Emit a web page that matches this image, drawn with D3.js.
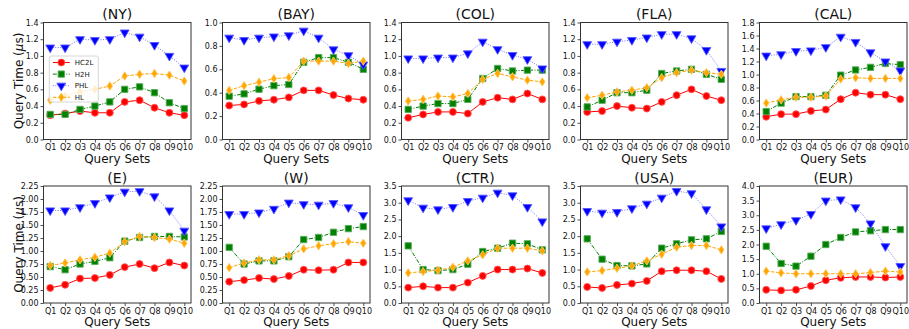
<!DOCTYPE html>
<html>
<head>
<meta charset="utf-8">
<script src="https://cdn.jsdelivr.net/npm/d3@7"></script>
<style>
  body { margin: 0; background: #fff; }
  text { font-family: "DejaVu Sans", sans-serif; fill: #111; }
</style>
</head>
<body>
<svg id="chart" width="909" height="329"></svg>
<script>
const regions = ["NY", "BAY", "COL", "FLA", "CAL", "E", "W", "CTR", "USA", "EUR"];
const querySets = ["Q1", "Q2", "Q3", "Q4", "Q5", "Q6", "Q7", "Q8", "Q9", "Q10"];
const yMax = [1.4, 1.0, 1.4, 1.4, 1.8, 2.25, 2.25, 3.5, 3.5, 4.0];
const yStep = [0.2, 0.2, 0.2, 0.2, 0.2, 0.25, 0.25, 0.5, 0.5, 0.5];

// one row per region, in the order of `regions`
const hc2l = [
  [0.29, 0.31, 0.34, 0.32, 0.32, 0.45, 0.47, 0.38, 0.32, 0.29],
  [0.29, 0.30, 0.33, 0.34, 0.36, 0.42, 0.42, 0.38, 0.35, 0.34],
  [0.26, 0.30, 0.33, 0.33, 0.31, 0.45, 0.50, 0.48, 0.55, 0.48],
  [0.33, 0.34, 0.40, 0.38, 0.37, 0.45, 0.53, 0.60, 0.52, 0.47],
  [0.35, 0.39, 0.39, 0.44, 0.46, 0.62, 0.72, 0.69, 0.69, 0.62],
  [0.29, 0.35, 0.47, 0.48, 0.54, 0.69, 0.75, 0.67, 0.78, 0.72],
  [0.41, 0.44, 0.48, 0.46, 0.52, 0.64, 0.63, 0.64, 0.78, 0.78],
  [0.46, 0.50, 0.46, 0.46, 0.61, 0.81, 1.00, 1.00, 1.03, 0.90],
  [0.48, 0.45, 0.54, 0.58, 0.66, 0.95, 0.98, 0.98, 0.95, 0.72],
  [0.45, 0.43, 0.45, 0.58, 0.78, 0.86, 0.89, 0.89, 0.87, 0.89]
];
const h2h = [
  [0.30, 0.30, 0.36, 0.40, 0.45, 0.60, 0.63, 0.56, 0.44, 0.37],
  [0.37, 0.39, 0.43, 0.46, 0.47, 0.66, 0.70, 0.70, 0.66, 0.60],
  [0.36, 0.40, 0.43, 0.43, 0.48, 0.73, 0.85, 0.82, 0.83, 0.83],
  [0.39, 0.47, 0.56, 0.56, 0.59, 0.79, 0.82, 0.84, 0.78, 0.72],
  [0.43, 0.56, 0.66, 0.66, 0.68, 0.99, 1.07, 1.11, 1.17, 1.15],
  [0.70, 0.64, 0.75, 0.80, 0.87, 1.19, 1.26, 1.28, 1.28, 1.27],
  [1.07, 0.75, 0.81, 0.81, 0.89, 1.22, 1.26, 1.36, 1.43, 1.47],
  [1.71, 1.00, 0.97, 1.00, 1.16, 1.54, 1.64, 1.79, 1.77, 1.59],
  [1.92, 1.31, 1.12, 1.11, 1.17, 1.64, 1.77, 1.89, 1.92, 2.14],
  [1.94, 1.35, 1.26, 1.60, 2.00, 2.24, 2.43, 2.47, 2.51, 2.51]
];
const phl = [
  [1.10, 1.10, 1.20, 1.19, 1.20, 1.28, 1.23, 1.13, 1.00, 0.86],
  [0.87, 0.85, 0.87, 0.88, 0.89, 0.93, 0.87, 0.77, 0.72, 0.64],
  [0.97, 0.97, 0.98, 0.98, 1.03, 1.17, 1.08, 1.01, 0.96, 0.85],
  [1.14, 1.14, 1.17, 1.19, 1.22, 1.26, 1.26, 1.21, 1.07, 0.82],
  [1.29, 1.31, 1.36, 1.37, 1.42, 1.58, 1.50, 1.34, 1.20, 1.06],
  [1.78, 1.78, 1.84, 1.92, 2.03, 2.14, 2.15, 2.05, 1.78, 1.39],
  [1.71, 1.71, 1.74, 1.81, 1.93, 1.90, 1.89, 1.92, 1.84, 1.69],
  [3.07, 2.85, 2.80, 2.87, 3.05, 3.15, 3.30, 3.22, 2.87, 2.44],
  [2.75, 2.70, 2.72, 2.83, 2.97, 3.15, 3.35, 3.28, 2.80, 2.29],
  [2.55, 2.69, 2.83, 3.04, 3.50, 3.54, 3.27, 2.72, 1.94, 1.26]
];
const hl = [
  [0.47, 0.52, 0.57, 0.60, 0.64, 0.76, 0.78, 0.79, 0.77, 0.70],
  [0.42, 0.46, 0.49, 0.52, 0.53, 0.67, 0.67, 0.67, 0.65, 0.67],
  [0.46, 0.48, 0.52, 0.51, 0.55, 0.72, 0.79, 0.75, 0.71, 0.69],
  [0.50, 0.53, 0.57, 0.59, 0.62, 0.74, 0.80, 0.83, 0.80, 0.78],
  [0.56, 0.61, 0.65, 0.65, 0.67, 0.93, 0.95, 0.94, 0.94, 0.94],
  [0.72, 0.77, 0.83, 0.88, 0.96, 1.18, 1.28, 1.26, 1.23, 1.15],
  [0.68, 0.77, 0.83, 0.83, 0.91, 1.04, 1.10, 1.14, 1.18, 1.15],
  [0.90, 0.94, 0.98, 1.07, 1.26, 1.44, 1.64, 1.64, 1.64, 1.56],
  [0.93, 0.97, 1.04, 1.11, 1.26, 1.46, 1.67, 1.72, 1.72, 1.59],
  [1.09, 1.03, 1.00, 1.00, 1.00, 1.00, 1.00, 1.04, 1.09, 1.06]
];

// marker shapes
var circle = d3.symbol().type(d3.symbolCircle).size(38)();
var square = d3.symbol().type(d3.symbolSquare).size(40)();
var triDown = d3.symbol().type(d3.symbolTriangle).size(34)();
var thinDiamond = "M0,-4.2L2.7,0L0,4.2L-2.7,0Z";

var methods = [
  { name: "HC2L", values: hc2l, color: "#ff0000", dash: null, op: 1, marker: circle, rot: 0 },
  { name: "H2H", values: h2h, color: "#008000", dash: "4,1.5,1,1.5", op: 1, marker: square, rot: 0 },
  { name: "PHL", values: phl, color: "#0000ff", dash: "1,1.5", op: 0.55, marker: triDown, rot: 180 },
  { name: "HL", values: hl, color: "#ffa500", dash: "3.5,1.5", op: 1, marker: thinDiamond, rot: 0 }
];

var svg = d3.select('#chart');
var w = 147.5, h = 117;

regions.forEach(function(region, i) {
  var col = i % 5, row = Math.floor(i / 5);
  var left = 43.5 + col * 179;
  var top = row === 0 ? 22.5 : 186;

  var x = d3.scalePoint().domain(querySets).range([0, w]).padding(0.45);
  var y = d3.scaleLinear().domain([0, yMax[i]]).range([h, 0]);

  var g = svg.append('g')
    .attr('transform', 'translate(' + left + ',' + top + ')');

  var fmt = yStep[i] === 0.25 ? d3.format('.2f') : d3.format('.1f');
  var ticks = d3.range(0, yMax[i] + 1e-6, yStep[i]);

  var yAxis = g.append('g')
    .call(d3.axisLeft(y).tickValues(ticks).tickFormat(fmt).tickSize(3).tickPadding(2));
  var xAxis = g.append('g')
    .attr('transform', 'translate(0,' + h + ')')
    .call(d3.axisBottom(x).tickSize(3).tickPadding(2));

  [yAxis, xAxis].forEach(function(a) {
    a.select('.domain').remove();
    a.selectAll('.tick line').attr('stroke', '#222').attr('stroke-width', 0.8);
    a.selectAll('.tick text')
      .attr('font-family', '"DejaVu Sans", sans-serif')
      .attr('font-size', '8px')
      .attr('fill', '#111');
  });

  // series
  methods.forEach(function(m) {
    var vals = m.values[i];
    var line = d3.line()
      .x(function(d, j) { return x(querySets[j]); })
      .y(function(d) { return y(d); });
    g.append('path')
      .datum(vals)
      .attr('fill', 'none')
      .attr('stroke', m.color)
      .attr('stroke-width', 1)
      .attr('stroke-opacity', m.op)
      .attr('stroke-dasharray', m.dash)
      .attr('d', line);
    var edge = d3.interpolateRgb(m.color, '#ffffff')(0.35);
    g.selectAll(null)
      .data(vals)
      .enter()
      .append('path')
      .attr('d', m.marker)
      .attr('transform', function(d, j) {
        return 'translate(' + x(querySets[j]) + ',' + y(d) + ') rotate(' + m.rot + ')';
      })
      .attr('fill', m.color)
      .attr('stroke', edge)
      .attr('stroke-width', 0.9);
  });

  // frame
  g.append('rect')
    .attr('width', w)
    .attr('height', h)
    .attr('fill', 'none')
    .attr('stroke', '#333')
    .attr('stroke-width', 1);

  g.append('text')
    .attr('x', w / 2)
    .attr('y', -3.5)
    .attr('text-anchor', 'middle')
    .attr('font-size', '14px')
    .text('(' + region + ')');

  g.append('text')
    .attr('x', w / 2)
    .attr('y', h + 23)
    .attr('text-anchor', 'middle')
    .attr('font-size', '12px')
    .text('Query Sets');

  if (col === 0) {
    var lbl = svg.append('text')
      .attr('transform', 'translate(18.5,' + (top + h / 2) + ') rotate(-90)')
      .attr('dy', '0.35em')
      .attr('text-anchor', 'middle')
      .attr('font-size', '12px');
    lbl.append('tspan').text('Query Time (');
    lbl.append('tspan').attr('font-style', 'italic').text('\u03bc');
    lbl.append('tspan').text('s)');
  }

  // legend only in the first panel
  if (i === 0) {
    var lg = svg.append('g').attr('transform', 'translate(49.3,56)');
    lg.append('rect')
      .attr('width', 49)
      .attr('height', 46)
      .attr('rx', 2)
      .attr('fill', '#fff')
      .attr('fill-opacity', 0.8)
      .attr('stroke', '#ccc')
      .attr('stroke-width', 0.8);
    methods.forEach(function(m, k) {
      var ly = 6.5 + k * 11.6;
      lg.append('line')
        .attr('x1', 3.5).attr('x2', 20.5)
        .attr('y1', ly).attr('y2', ly)
        .attr('stroke', m.color)
        .attr('stroke-opacity', m.op)
        .attr('stroke-dasharray', m.dash);
      lg.append('path')
        .attr('d', m.marker)
        .attr('transform', 'translate(12,' + ly + ') rotate(' + m.rot + ')')
        .attr('fill', m.color)
        .attr('stroke', d3.interpolateRgb(m.color, '#ffffff')(0.35))
        .attr('stroke-width', 0.9);
      lg.append('text')
        .attr('x', 25.5)
        .attr('y', ly)
        .attr('dy', '0.35em')
        .attr('font-size', '7px')
        .text(m.name);
    });
  }
});
</script>
</body>
</html>
